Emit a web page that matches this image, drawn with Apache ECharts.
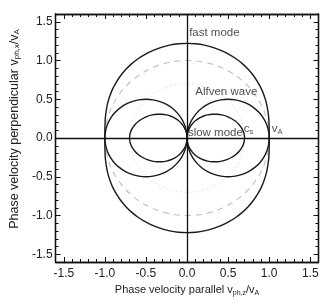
<!DOCTYPE html>
<html>
<head>
<meta charset="utf-8">
<script src="https://cdn.jsdelivr.net/npm/echarts@6/dist/echarts.min.js"></script>
<style>html,body{margin:0;padding:0;background:#fff}#c{width:334px;height:302px}</style>
</head>
<body>
<div id="c"></div>
<script>
// propagation angles (deg, from the parallel axis) at which radii were read
const angles = [0,5,10,15,20,25,30,35,40,45,50,55,60,65,70,75,80,85,90];
// phase speed (units of vA) at each angle
const fastR   = [1.000,1.004,1.014,1.029,1.046,1.066,1.085,1.105,1.123,1.141,1.157,1.172,1.184,1.195,1.204,1.211,1.217,1.220,1.221];
const slowR   = [0.700,0.695,0.680,0.657,0.629,0.595,0.559,0.519,0.477,0.434,0.389,0.343,0.296,0.248,0.199,0.150,0.100,0.050,0.000];
const alfvenR = [1.000,0.996,0.985,0.966,0.940,0.906,0.866,0.819,0.766,0.707,0.643,0.574,0.500,0.423,0.342,0.259,0.174,0.087,0.000];
const vaR     = [1.000,1.000,1.000,1.000,1.000,1.000,1.000,1.000,1.000,1.000,1.000,1.000,1.000,1.000,1.000,1.000,1.000,1.000,1.000];
const csR     = [0.700,0.700,0.700,0.700,0.700,0.700,0.700,0.700,0.700,0.700,0.700,0.700,0.700,0.700,0.700,0.700,0.700,0.700,0.700];
const majorTicks = [-1.5,-1.0,-0.5,0.0,0.5,1.0,1.5];
const minorTicks = [-1.6,-1.5,-1.4,-1.3,-1.2,-1.1,-1.0,-0.9,-0.8,-0.7,-0.6,-0.5,-0.4,-0.3,-0.2,-0.1,0.0,0.1,0.2,0.3,0.4,0.5,0.6,0.7,0.8,0.9,1.0,1.1,1.2,1.3,1.4,1.5,1.6];

const rad = d => d * Math.PI / 180;
// quadrant I radii -> full angular sweep (symmetric in both axes)
function sweep(R) {
  const pts = [];
  const n = angles.length - 1;
  for (let q = 0; q < 4; q++) {
    for (let i = 0; i <= n; i++) {
      let a, r;
      if (q === 0) { a = angles[i]; r = R[i]; }
      else if (q === 1) { a = 180 - angles[n - i]; r = R[n - i]; }
      else if (q === 2) { a = 180 + angles[i]; r = R[i]; }
      else { a = 360 - angles[n - i]; r = R[n - i]; }
      if (i > 0 || q === 0) pts.push([a, r]);
    }
  }
  return pts.map(p => [p[1] * Math.cos(rad(p[0])), p[1] * Math.sin(rad(p[0]))]);
}
function lobeRight(R) {
  const n = angles.length - 1, pts = [];
  for (let i = n; i >= 0; i--) pts.push([R[i]*Math.cos(rad(-angles[i])), R[i]*Math.sin(rad(-angles[i]))]);
  for (let i = 1; i <= n; i++) pts.push([R[i]*Math.cos(rad(angles[i])), R[i]*Math.sin(rad(angles[i]))]);
  return pts;
}
const lobeLeft = R => lobeRight(R).map(p => [-p[0], p[1]]);

const font = 'Liberation Sans, Arial, sans-serif';
const lineStyle = {color: '#1a1a1a', width: 1.4};
function curve(data, style) {
  return {type: 'line', data, showSymbol: false, symbol: 'none', smooth: 0.3, lineStyle: style || lineStyle,
          xAxisIndex: 0, yAxisIndex: 0, silent: true, z: 3};
}
function note(x, y, text) {
  return {type: 'scatter', symbolSize: 0.1, data: [[x, y]], silent: true, xAxisIndex: 0, yAxisIndex: 0, z: 5,
          label: {show: true, position: 'right', distance: 0, formatter: text,
            color: '#222', fontSize: 11.5, fontFamily: font,
            rich: {sub: {fontSize: 7.5, color: '#222', padding: [6,0,0,0], fontFamily: font}}}};
}

function xAx(pos, ticks, len, labels, name) {
  return {type: 'value', min: -1.6, max: 1.6, position: pos,
    axisLine: {show: true, onZero: false, lineStyle: {color: '#111', width: 1.3}},
    axisTick: {show: true, inside: true, length: len, customValues: ticks, lineStyle: {color: '#111', width: 1}},
    axisLabel: labels ? {show: true, customValues: majorTicks, formatter: v => v.toFixed(1), color: '#222', fontSize: 12, fontFamily: font, margin: 6} : {show: false},
    splitLine: {show: false},
    name: name || '', nameLocation: 'middle', nameGap: 15,
    nameTextStyle: {color: '#222', fontSize: 11, fontFamily: font,
      rich: {sub: {fontSize: 7, color: '#222', fontFamily: font, padding: [5,0,0,0]}}}};
}
function yAx(pos, ticks, len, labels, name) {
  const a = xAx(pos, ticks, len, labels, name);
  if (labels) a.axisLabel.margin = 3;
  a.nameGap = 26;
  a.nameTextStyle.fontSize = 12.5;
  a.nameTextStyle.padding = [0, 0, 0, 18];
  a.nameTextStyle.rich.sub.fontSize = 8;
  return a;
}

const chart = echarts.init(document.getElementById('c'), null, {renderer: 'canvas'});
chart.setOption({
  animation: false,
  backgroundColor: '#fff',
  grid: {left: 45.5, top: 14, width: 273, height: 248, containLabel: false},
  xAxis: [
    xAx('bottom', majorTicks, 5, true, 'Phase velocity parallel v{sub|ph,z}/v{sub|A}'),
    xAx('bottom', minorTicks, 3, false),
    xAx('top', majorTicks, 5, false),
    xAx('top', minorTicks, 3, false)
  ],
  yAxis: [
    yAx('left', majorTicks, 5, true, 'Phase velocity perpendicular v{sub|ph,x}/v{sub|A}'),
    yAx('left', minorTicks, 3, false),
    yAx('right', majorTicks, 5, false),
    yAx('right', minorTicks, 3, false)
  ],
  series: [
    Object.assign(curve(sweep(csR), {color: '#dedede', width: 1, type: [1.5, 3]}), {z: 1}),
    Object.assign(curve(sweep(vaR), {color: '#c4c4c4', width: 1.2, type: [6, 5]}), {z: 2,
      markLine: {silent: true, symbol: 'none', label: {show: false},
        lineStyle: {color: '#111', width: 1.3, type: 'solid'},
        data: [{xAxis: 0}, {yAxis: 0}]}}),
    curve(sweep(fastR)),
    curve(lobeRight(alfvenR)),
    curve(lobeLeft(alfvenR)),
    curve(lobeRight(slowR)),
    curve(lobeLeft(slowR)),
    note(0.025, 1.36, 'fast mode'),
    note(0.10, 0.60, 'Alfven wave'),
    note(0.01, 0.065, 'slow mode'),
    note(0.69, 0.12, 'c{sub|s}'),
    note(1.03, 0.12, 'v{sub|A}')
  ]
});
</script>
</body>
</html>
